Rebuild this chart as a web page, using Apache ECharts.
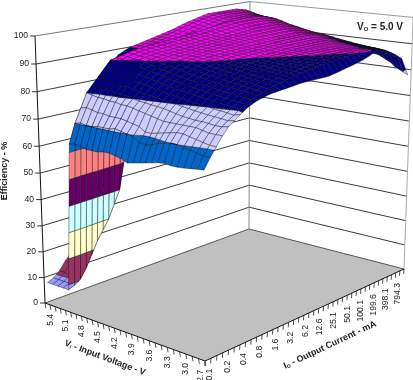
<!DOCTYPE html>
<html>
<head>
<meta charset="utf-8">
<style>
  html, body { margin: 0; padding: 0; background: #fff; }
  #chart { width: 413px; height: 380px; }
</style>
<script src="https://cdn.jsdelivr.net/npm/echarts@6/dist/echarts.min.js"></script>
</head>
<body>
<div id="chart"></div>
<script>
const effTicks = [0, 10, 20, 30, 40, 50, 60, 70, 80, 90, 100];
const viLabels = ['5.4', '5.1', '4.8', '4.5', '4.2', '3.9', '3.6', '3.3', '3.0', '2.7'];
const ioLabels = ['0.1', '0.2', '0.4', '0.8', '1.6', '3.2', '6.2', '12.6', '25.1', '50.1', '100.1', '199.6', '398.1', '794.3'];
const bandColors = ['#9999FF', '#993366', '#FFFFCC', '#CCFFFF', '#660066', '#FF8080', '#0066CC', '#CCCCFF', '#000080', '#FF00FF'];

// efficiency per input voltage, one value per output current step (0.1 mA .. 794.3 mA)
const vi54 = [8,9,11,14,16.5,20,24,28,33,40,52,70,86,88,89,90,90.5,91,91.5,92,92.5,93,93.5,94,94.7,95.4,96,96.5,97,97.5,98,98,98,98,98,98,98,97.5,97,96];
const vi53 = [8,9,11,14,17,21,25,29,34,41,54,72,85,88,89,90,90.5,91,91.5,92,92.5,93,93.5,94,94.6,95.2,95.8,96.3,96.8,97.2,97.6,97.8,97.8,97.8,97.7,97.6,97.4,97,96.3,95.4];
const vi52 = [8,9,10.5,14,17,21.5,25.5,29.5,34.5,41,54,71,84,88,89,90,90.5,91,91.5,92,92.4,92.8,93.2,93.7,94.2,94.8,95.4,95.9,96.4,96.8,97.2,97.4,97.4,97.4,97.3,97.1,96.8,96.3,95.6,94.8];
const vi51 = [8,9,10.5,14,18,22,26,30,35,41,54,70,83,88,89,90,90.4,90.8,91.2,91.6,92,92.4,92.8,93.3,93.8,94.4,95,95.5,96,96.4,96.8,97,97,97,96.9,96.7,96.4,95.9,95.2,94.4];
const vi50 = [8,9,10.5,14,18.5,23,26.5,30,35,40,52,68,80,87,89,90,90.4,90.8,91.2,91.6,92,92.3,92.6,93,93.5,94,94.6,95.1,95.6,96,96.4,96.6,96.7,96.7,96.6,96.4,96.1,95.6,94.9,94.1];
const vi49 = [63,70,75,80,82.5,85,87.5,90,90.5,91,91.5,92,92.3,92.6,92.8,93,93.2,93.4,93.6,93.8,94,94.2,94.4,94.7,95,95.3,95.6,95.9,96.2,96.4,96.5,96.6,96.6,96.6,96.5,96.3,96,95.5,94.8,94];
const vi48 = [63.5,70.5,75.5,79.5,82,84.5,87,89,90.2,90.8,91.3,91.7,92,92.3,92.5,92.7,92.9,93.1,93.3,93.5,93.7,93.9,94.1,94.3,94.6,94.9,95.2,95.5,95.8,96,96.1,96.1,96.1,96.1,96,95.8,95.4,94.9,94.2,93.4];
const vi47 = [63,70,75,79,81.5,84,86.5,88.5,89.7,90.3,90.9,91.3,91.6,91.9,92.1,92.3,92.5,92.7,92.9,93.1,93.3,93.5,93.7,93.9,94.2,94.5,94.8,95.1,95.3,95.5,95.6,95.6,95.6,95.6,95.5,95.2,94.8,94.2,93.5,92.6];
const vi46 = [62.5,70,74.5,79,81.5,83.5,85.5,87.5,89.2,90.2,90.7,91,91.3,91.5,91.7,91.9,92.1,92.3,92.5,92.7,92.9,93.1,93.3,93.5,93.7,94,94.2,94.5,94.7,94.9,95,95,95,95,94.9,94.6,94.2,93.6,92.9,92.1];
const vi45 = [62.5,70.5,74.5,78.5,81,83,85,87,88.5,89.7,90.3,90.7,91,91.2,91.4,91.6,91.8,92,92.2,92.4,92.6,92.8,93,93.2,93.4,93.6,93.8,94,94.2,94.4,94.5,94.5,94.5,94.5,94.3,94,93.6,93,92.3,91.6];
const vi44 = [62.5,70.5,74,78.5,81,83,84.8,86.5,88,89,90,90.5,90.8,91,91.2,91.4,91.6,91.8,92,92.2,92.4,92.6,92.8,93,93.2,93.4,93.6,93.7,93.9,94,94,94,94,94,93.8,93.5,93.1,92.6,91.9,91];
const vi43 = [63,70.5,74,78,80.5,82.5,84.3,86,87.5,88.5,89.3,90,90.5,90.8,91,91.2,91.4,91.6,91.8,92,92.2,92.4,92.6,92.7,92.9,93.1,93.2,93.3,93.4,93.5,93.5,93.5,93.5,93.5,93.3,93,92.6,92.1,91.4,90.5];
const vi42 = [63,71,74,78,80,82,84,85.5,87,88,89,89.6,90.1,90.5,90.8,91,91.2,91.4,91.6,91.8,92,92.1,92.3,92.4,92.6,92.7,92.8,92.9,93,93,93,93,93,93,92.8,92.5,92.1,91.6,91,90.2];
const vi41 = [62.5,70.5,73.5,77.5,79.5,81.5,83.5,85,86.5,87.5,88.5,89.3,90,90.4,90.7,90.9,91.1,91.3,91.4,91.6,91.7,91.8,92,92.1,92.2,92.3,92.4,92.5,92.5,92.5,92.5,92.5,92.5,92.5,92.3,92,91.6,91.2,90.6,90];
const vi40 = [62,70,73,77,79.3,81.3,83,84.5,86,87,88,88.8,89.6,90.1,90.4,90.6,90.8,91,91.1,91.3,91.4,91.5,91.6,91.7,91.8,91.9,92,92.1,92.2,92.2,92.2,92.2,92.2,92.2,92,91.7,91.3,90.8,90.2,89.6];
const vi39 = [61,69.5,72.5,76.5,79,81,82.5,84,85.5,86.5,87.5,88.3,89,89.8,90.2,90.4,90.6,90.8,90.9,91,91.1,91.2,91.3,91.4,91.5,91.6,91.7,91.8,91.9,92,92,92,92,92,91.8,91.5,91,90.5,89.8,89.2];
const vi38 = [61.5,68,71,76,78.8,80.5,82,83.5,85,86,87,87.8,88.4,88.9,89.4,90,90.3,90.5,90.7,90.8,90.9,91,91.1,91.2,91.3,91.4,91.5,91.5,91.6,91.6,91.6,91.6,91.6,91.5,91.3,91,90.5,89.9,89.3,88.7];
const vi37 = [62,67.5,71,75.5,78.5,80.3,81.8,83.2,84.6,85.6,86.6,87.4,88,88.5,89,89.4,89.7,90,90.3,90.5,90.6,90.7,90.8,90.9,91,91.1,91.2,91.2,91.3,91.3,91.3,91.3,91.3,91.2,91,90.7,90.2,89.6,89,88.4];
const vi36 = [62.5,68,71.5,75,78,80,81.5,83,84.2,85.2,86.2,87,87.6,88.1,88.6,89,89.3,89.6,89.8,90,90.2,90.4,90.5,90.6,90.7,90.8,90.9,91,91,91,91,91,91,90.9,90.7,90.3,89.8,89.2,88.6,88];
const vi35 = [63,69,72,75,77.5,79.5,81,82.5,83.8,84.8,85.8,86.6,87.3,87.8,88.3,88.7,89,89.3,89.6,89.8,90,90.2,90.3,90.4,90.5,90.6,90.7,90.8,90.8,90.8,90.8,90.8,90.8,90.7,90.4,90,89.5,88.9,88.2,87.6];
const vi34 = [63.5,69.5,72.5,75,77,79.2,80.7,82.2,83.5,84.5,85.5,86.3,87,87.5,88,88.4,88.8,89,89.3,89.5,89.8,90,90.2,90.3,90.4,90.5,90.5,90.6,90.6,90.6,90.6,90.6,90.6,90.5,90.2,89.8,89.2,88.6,88,87.3];
const vi33 = [63.8,70,73,75,76.8,78.8,80.3,81.8,83,84,85,85.8,86.5,87.1,87.6,88,88.4,88.8,89,89.2,89.5,89.7,89.9,90.1,90.2,90.3,90.4,90.4,90.4,90.4,90.4,90.4,90.4,90.3,90,89.5,89,88.4,87.7,87];
const vi32 = [63.5,70,73,75,76.5,78.5,80,81.5,82.8,83.8,84.8,85.5,86.2,86.8,87.3,87.7,88.1,88.5,88.8,89,89.2,89.4,89.6,89.8,90,90.2,90.3,90.3,90.3,90.3,90.3,90.3,90.3,90.2,89.8,89.3,88.8,88.2,87.5,86.8];
const vi31 = [63.5,69.5,72.5,75,76.5,78.2,79.7,81.2,82.5,83.5,84.5,85.2,85.9,86.5,87,87.4,87.8,88.2,88.5,88.8,89,89.2,89.4,89.6,89.8,90,90.1,90.2,90.2,90.2,90.2,90.2,90.2,90,89.6,89.1,88.6,88,87.3,86.5];
const vi30 = [63.7,69,72,74.5,76.3,78,79.5,81,82.2,83.2,84.2,84.9,85.6,86.2,86.7,87.1,87.5,87.9,88.2,88.5,88.8,89,89.2,89.4,89.6,89.8,89.9,90,90.1,90.2,90.2,90.2,90.1,89.9,89.4,88.9,88.3,87.7,87,86];
const vi29 = [64,68.5,71.5,74,76,77.8,79.2,80.6,81.8,82.8,83.8,84.5,85.2,85.8,86.3,86.8,87.2,87.6,87.9,88.2,88.5,88.8,89,89.2,89.4,89.6,89.7,89.8,90,90.1,90.2,90.2,90.1,89.8,89.2,88.6,87.9,87.2,86.3,85.2];
const vi28 = [64.3,68,71,74,76,77.5,78.8,80.3,81.5,82.5,83.3,84,84.7,85.3,85.9,86.4,86.8,87.2,87.6,87.9,88.2,88.5,88.7,88.9,89.1,89.3,89.5,89.6,89.8,90,90.2,90.3,90.2,89.5,88.7,87.8,86.9,86,85,84];
const vi27 = [64.5,68,71,74,76.5,78,79.5,81,82,82.8,83.3,83.8,84,84.2,84.4,84.6,84.8,85,85,85,85,85,85,85.4,85.8,86.2,86.6,87,87.5,88,88.7,89.5,88.8,87.5,86,84.5,82.5,81,79.5,78];

const surface = [vi54, vi53, vi52, vi51, vi50, vi49, vi48, vi47, vi46, vi45, vi44, vi43, vi42, vi41,
    vi40, vi39, vi38, vi37, vi36, vi35, vi34, vi33, vi32, vi31, vi30, vi29, vi28, vi27];
const viSteps = surface.length;
const ioSteps = vi54.length;

const tickFont = '8.6px "Liberation Sans", Arial, sans-serif';
const titleFont = 'bold 9px "Liberation Sans", Arial, sans-serif';

// camera fitted to the box corners: io 0..1, vi 0..1, eff 0..1
function project(io, vi, eff) {
    const w = 0.1819 * io - 0.11656 * vi - 0.05206 * eff + 1;
    return [
        (249.29 * io + 136.1 * vi - 11.82 * eff + 45) / w,
        (-32.34 * io + 15.92 * vi - 268.9 * eff + 303) / w
    ];
}

const ioPos = (b) => (b + 0.3) / (ioSteps - 0.4);
const viPos = (a) => (a + 0.3) / (viSteps - 0.4);

// keep the part of a cell between two efficiency levels
function clipLevel(points, level, keepAbove) {
    const out = [];
    points.forEach((p, i) => {
        const q = points[(i + 1) % points.length];
        const pIn = keepAbove ? p[2] >= level : p[2] <= level;
        const qIn = keepAbove ? q[2] >= level : q[2] <= level;
        if (pIn) {
            out.push(p);
        }
        if (pIn !== qIn) {
            const t = (level - p[2]) / (q[2] - p[2]);
            out.push([p[0] + (q[0] - p[0]) * t, p[1] + (q[1] - p[1]) * t, level]);
        }
    });
    return out;
}

function renderCell(params, api) {
    const a = api.value(0);
    const b = api.value(1);
    const corners = [
        [ioPos(b), viPos(a), api.value(2)],
        [ioPos(b + 1), viPos(a), api.value(3)],
        [ioPos(b + 1), viPos(a + 1), api.value(4)],
        [ioPos(b), viPos(a + 1), api.value(5)]
    ];
    const children = [];
    bandColors.forEach((color, band) => {
        let part = clipLevel(corners, band * 10, true);
        if (part.length) {
            part = clipLevel(part, (band + 1) * 10, false);
        }
        if (part.length > 2) {
            children.push({
                type: 'polygon',
                shape: { points: part.map((p) => api.coord(project(p[0], p[1], p[2] / 100))) },
                style: { fill: color, stroke: '#111', lineWidth: 0.42 }
            });
        }
    });
    return { type: 'group', children: children };
}

function line(api, from, to, stroke, width) {
    const p = api.coord(from);
    const q = api.coord(to);
    return {
        type: 'line',
        shape: { x1: p[0], y1: p[1], x2: q[0], y2: q[1] },
        style: { stroke: stroke, lineWidth: width }
    };
}

function label(api, at, text, font, align, rotation) {
    const p = api.coord(at);
    return {
        type: 'text',
        x: p[0],
        y: p[1],
        rotation: rotation || 0,
        style: { text: text, font: font, fill: '#222', align: align, verticalAlign: 'middle' }
    };
}

function renderFrame(params, api) {
    const children = [];
    const corner = (io, vi, eff) => project(io, vi, eff);
    const wall = (pts, fill) => ({
        type: 'polygon',
        shape: { points: pts.map((p) => api.coord(p)) },
        style: { fill: fill, stroke: 'none' }
    });

    children.push(wall([corner(0, 0, 0), corner(1, 0, 0), corner(1, 0, 1), corner(0, 0, 1)], '#fff'));
    children.push(wall([corner(1, 0, 0), corner(1, 1, 0), corner(1, 1, 1), corner(1, 0, 1)], '#fff'));
    children.push(wall([corner(0, 0, 0), corner(1, 0, 0), corner(1, 1, 0), corner(0, 1, 0)], '#C0C0C0'));

    effTicks.forEach((tick) => {
        const eff = tick / 100;
        const gridColor = tick === 0 ? '#555' : (tick === 100 ? '#777' : '#3a3a3a');
        children.push(line(api, corner(0, 0, eff), corner(1, 0, eff), gridColor, 1));
        children.push(line(api, corner(1, 0, eff), corner(1, 1, eff), tick === 100 ? '#999' : gridColor, 1));
        const at = corner(0, 0, eff);
        children.push(line(api, [at[0] - 5, at[1]], at, '#333', 1));
        children.push(label(api, [at[0] - 7, at[1]], String(tick), tickFont, 'right'));
    });

    children.push(line(api, corner(1, 0, 0), corner(1, 0, 1), '#888', 1));
    children.push(line(api, corner(1, 1, 0), corner(1, 1, 1), '#aaa', 1));
    children.push(line(api, corner(0, 0, 0), corner(0, 0, 1), '#111', 1));
    children.push(line(api, corner(0, 0, 0), corner(0, 1, 0), '#111', 1));
    children.push(line(api, corner(0, 1, 0), corner(1, 1, 0), '#111', 1));

    for (let k = 0; k <= viSteps; k++) {
        const at = corner(0, k / viSteps, 0);
        children.push(line(api, at, [at[0] + 0.8, at[1] + 5], '#222', 0.8));
    }
    for (let k = 0; k <= ioSteps; k++) {
        const at = corner(k / ioSteps, 1, 0);
        children.push(line(api, at, [at[0] - 0.3, at[1] + 5], '#222', 0.8));
    }

    viLabels.forEach((text, i) => {
        const at = corner(0, (i * 3 + 0.5) / viSteps, 0);
        const shift = i === viLabels.length - 1 ? -1 : 3;
        children.push(label(api, [at[0] + shift, at[1] + 10], text, tickFont, 'right', Math.PI / 2));
    });
    ioLabels.forEach((text, i) => {
        const t = i / (ioLabels.length - 1);
        const at = corner((i * 3 + 0.5) / ioSteps, 1, 0);
        children.push(label(api, [at[0] + 2 - 6 * t, at[1] + 9 + 4 * t], text, tickFont, 'right', Math.PI / 2));
    });

    children.push(label(api, [4.5, 171], 'Efficiency - %', titleFont, 'center', Math.PI / 2));

    const subTitle = (at, main, sub, rest, rotation, size) => {
        const p = api.coord(at);
        return {
            type: 'text',
            x: p[0],
            y: p[1],
            rotation: rotation,
            style: {
                text: '{m|' + main + '}{s|' + sub + '}{m|' + rest + '}',
                align: 'center',
                verticalAlign: 'middle',
                rich: {
                    m: { font: 'bold ' + size + 'px "Liberation Sans", Arial, sans-serif', fill: '#222' },
                    s: { font: 'bold ' + (size - 4) + 'px "Liberation Sans", Arial, sans-serif', fill: '#222', verticalAlign: 'bottom', padding: [3, 0, 0, 0] }
                }
            }
        };
    };
    children.push(subTitle([105, 358], 'V', 'I', ' - Input Voltage - V', -0.36, 9));
    children.push(subTitle([330, 345], 'I', 'O', ' - Output Current - mA', 0.44, 9));
    children.push(subTitle([380, 27], 'V', 'O', ' = 5.0 V', 0, 10));

    return { type: 'group', children: children };
}

// back cells first, the front corner is nearest to the viewer
const cells = [];
for (let a = 0; a < viSteps - 1; a++) {
    for (let b = ioSteps - 2; b >= 0; b--) {
        cells.push([a, b, surface[a][b], surface[a][b + 1], surface[a + 1][b + 1], surface[a + 1][b]]);
    }
}

const chart = echarts.init(document.getElementById('chart'));
chart.setOption({
    animation: false,
    backgroundColor: '#fff',
    grid: { left: 0, right: 0, top: 0, bottom: 0 },
    xAxis: { type: 'value', min: 0, max: 413, show: false },
    yAxis: { type: 'value', min: 0, max: 380, inverse: true, show: false },
    series: [
        {
            type: 'custom',
            name: 'frame',
            coordinateSystem: 'cartesian2d',
            clip: false,
            silent: true,
            data: [[0, 0]],
            encode: { x: 0, y: 1 },
            renderItem: renderFrame,
            z: 1
        },
        {
            type: 'custom',
            name: 'efficiency',
            coordinateSystem: 'cartesian2d',
            clip: false,
            silent: true,
            progressive: 0,
            data: cells,
            encode: { x: 0, y: 1 },
            renderItem: renderCell,
            z: 2
        }
    ]
});
</script>
</body>
</html>
